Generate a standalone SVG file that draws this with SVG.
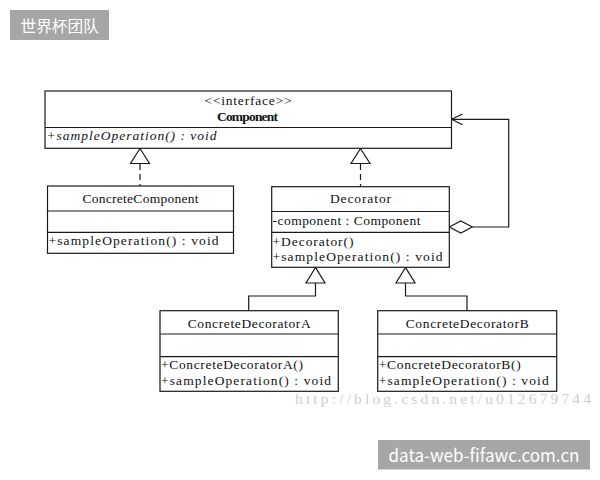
<svg xmlns="http://www.w3.org/2000/svg" width="600" height="480" viewBox="0 0 600 480">
<style>
.box{fill:#fff;stroke:#1a1a1a;stroke-width:1.2}
.div{stroke:#1a1a1a;stroke-width:1.2}
.t{font-family:"Liberation Serif","Times New Roman",serif;font-size:13.5px;fill:#111}
.c{text-anchor:middle}
.b{font-weight:bold}
.i{font-style:italic}
.ln{fill:none;stroke:#1a1a1a;stroke-width:1.2}
.tri{fill:#fff;stroke:#1a1a1a;stroke-width:1.2}
.dash{stroke-dasharray:6,4}
.badge{fill:#a6a6a6}
.bt{fill:#fff;font-family:"Noto Sans CJK SC","Noto Sans",sans-serif}
</style>
<rect width="600" height="480" fill="#fff"/>
<g id="badge-top">
<rect class="badge" x="10" y="10" width="99" height="30"/>
<text class="bt" x="20.5" y="32" font-size="15.7">世界杯团队</text>
</g>
<g id="watermark">
<text x="295" y="404" font-family="Liberation Serif,serif" font-size="15.5" fill="#cfcfcf" textLength="296" lengthAdjust="spacing">http://blog.csdn.net/u012679744</text>
</g>
<g id="badge-bottom">
<rect class="badge" x="378" y="440" width="212" height="29.5"/>
<text class="bt" x="388.5" y="462" font-size="17.5" font-family="Liberation Sans,Arial,sans-serif" textLength="191" lengthAdjust="spacingAndGlyphs">data-web-fifawc.com.cn</text>
</g>
<g id="connectors">
<line class="ln dash" x1="140" y1="164" x2="140" y2="186"/>
<polygon class="tri" points="140,148.5 130.5,163.5 149.5,163.5"/>
<line class="ln dash" x1="360.5" y1="164" x2="360.5" y2="186.5"/>
<polygon class="tri" points="360.5,148.5 351,163.5 370,163.5"/>
<polyline class="ln" points="315.5,283 315.5,296 248.7,296 248.7,310.7"/>
<polygon class="tri" points="315.5,267.5 306,283 325,283"/>
<polyline class="ln" points="405.5,283 405.5,296 467,296 467,310.7"/>
<polygon class="tri" points="405.5,267.5 396,283 415,283"/>
<polyline class="ln" points="472.3,227 508.7,227 508.7,119.3 451.7,119.3"/>
<polyline class="ln" points="462.5,114 451.7,119.3 462.5,124.8"/>
<polygon class="tri" points="449.3,227 460.8,221 472.3,227 460.8,233"/>
</g>
<g id="Component">
<rect class="box" x="45" y="91" width="406.5" height="57.3"/>
<line class="div" x1="45" y1="127.5" x2="451.5" y2="127.5"/>
<text class="t c" x="248" y="104.5" textLength="87" lengthAdjust="spacing">&lt;&lt;interface&gt;&gt;</text>
<text class="t c b" x="247.5" y="120.5" textLength="61" lengthAdjust="spacing">Component</text>
<text class="t i" x="46.5" y="139.5" textLength="170" lengthAdjust="spacing">+sampleOperation() : void</text>
</g>
<g id="ConcreteComponent">
<rect class="box" x="47.5" y="186" width="186" height="67.3"/>
<line class="div" x1="47.5" y1="211" x2="233.5" y2="211"/>
<line class="div" x1="47.5" y1="232.3" x2="233.5" y2="232.3"/>
<text class="t c" x="140.5" y="203" textLength="116" lengthAdjust="spacing">ConcreteComponent</text>
<text class="t" x="48.5" y="245" textLength="170" lengthAdjust="spacing">+sampleOperation() : void</text>
</g>
<g id="Decorator">
<rect class="box" x="271.7" y="186.7" width="177.6" height="80.6"/>
<line class="div" x1="271.7" y1="211.5" x2="449.3" y2="211.5"/>
<line class="div" x1="271.7" y1="232.3" x2="449.3" y2="232.3"/>
<text class="t c" x="360.5" y="203" textLength="61" lengthAdjust="spacing">Decorator</text>
<text class="t" x="272.5" y="225" textLength="148" lengthAdjust="spacing">-component : Component</text>
<text class="t" x="272.5" y="245.5" textLength="81" lengthAdjust="spacing">+Decorator()</text>
<text class="t" x="272.5" y="261" textLength="170" lengthAdjust="spacing">+sampleOperation() : void</text>
</g>
<g id="ConcreteDecoratorA">
<rect class="box" x="160" y="310.7" width="178.3" height="80.6"/>
<line class="div" x1="160" y1="334" x2="338.3" y2="334"/>
<line class="div" x1="160" y1="356.7" x2="338.3" y2="356.7"/>
<text class="t c" x="249.2" y="328" textLength="123" lengthAdjust="spacing">ConcreteDecoratorA</text>
<text class="t" x="161" y="369" textLength="142" lengthAdjust="spacing">+ConcreteDecoratorA()</text>
<text class="t" x="161" y="385" textLength="170" lengthAdjust="spacing">+sampleOperation() : void</text>
</g>
<g id="ConcreteDecoratorB">
<rect class="box" x="377.7" y="310.7" width="179" height="80.6"/>
<line class="div" x1="377.7" y1="334" x2="556.7" y2="334"/>
<line class="div" x1="377.7" y1="356.7" x2="556.7" y2="356.7"/>
<text class="t c" x="467.2" y="328" textLength="123" lengthAdjust="spacing">ConcreteDecoratorB</text>
<text class="t" x="378.7" y="369" textLength="142" lengthAdjust="spacing">+ConcreteDecoratorB()</text>
<text class="t" x="378.7" y="385" textLength="170" lengthAdjust="spacing">+sampleOperation() : void</text>
</g>
</svg>
